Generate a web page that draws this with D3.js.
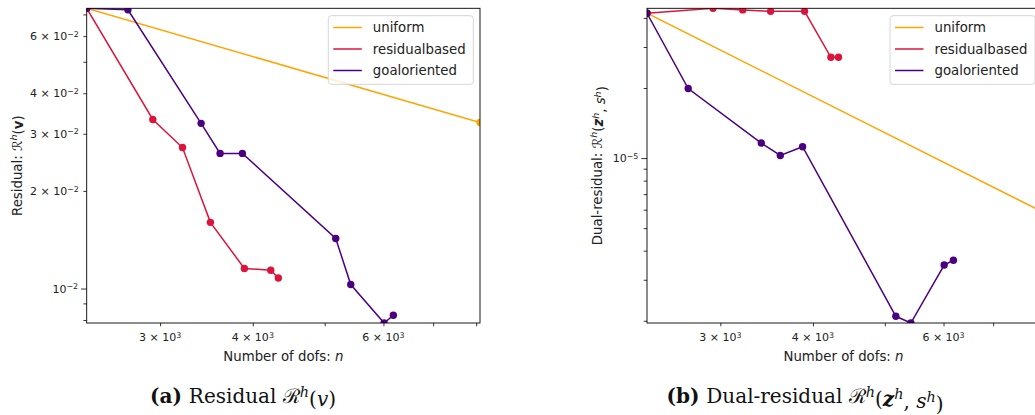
<!DOCTYPE html>
<html>
<head>
<meta charset="utf-8">
<style>
  body { margin: 0; background: #fff; }
  svg { display: block; font-family: "DejaVu Sans", sans-serif; }
</style>
</head>
<body>
<svg id="chart" width="1035" height="415"></svg>
<script src="https://cdn.jsdelivr.net/npm/d3@7"></script>
<script>
// series names and colours
const methods = ["uniform", "residualbased", "goaloriented"];
const colors = ["#ffa500", "#dc143c", "#4b0082"];

// number of dofs per refinement step (shared by both panels)
const uniformDofs = [2389, 8096];
const residualDofs = [2389, 2933, 3216, 3507, 3897, 4229, 4330];
const goalDofs = [2389, 2715, 3407, 3614, 3873, 5174, 5421, 6012, 6187];

// (a) residual
const uniformRes = [0.0731, 0.0325];
const residualRes = [0.0731, 0.0332, 0.0272, 0.0160, 0.01153, 0.01139, 0.01078];
const goalRes = [0.0731, 0.0723, 0.0323, 0.0261, 0.0261, 0.01427, 0.01029, 0.00783, 0.00827];

// (b) dual residual
const uniformDual = [4.19e-5, 5.94e-6];
const residualDual = [4.19e-5, 4.40e-5, 4.33e-5, 4.27e-5, 4.27e-5, 2.71e-5, 2.71e-5];
const goalDual = [4.19e-5, 1.99e-5, 1.16e-5, 1.026e-5, 1.119e-5, 2.09e-6, 1.956e-6, 3.47e-6, 3.64e-6];

// labelled ticks
const xLabelTicks = [3000, 4000, 6000];
const yLabelTicksRes = [0.01, 0.02, 0.03, 0.04, 0.06];
const yMajorTicksRes = [0.01];
const yLabelTicksDual = [1e-5];
const yMajorTicksDual = [1e-5];

const svg = d3.select("#chart");
const dofs = [uniformDofs, residualDofs, goalDofs];

// all 1..9 x 10^k values inside a domain
function logTicks(domain) {
    const out = [];
    const lo = Math.floor(Math.log10(domain[0])), hi = Math.ceil(Math.log10(domain[1]));
    for (let e = lo; e <= hi; e++)
        for (let m = 1; m <= 9; m++) {
            const v = m * Math.pow(10, e);
            if (v >= domain[0] * 0.9999 && v <= domain[1] * 1.0001) out.push(v);
        }
    return out;
}

// write "m × 10^e" (or "10^e") into a text element
function sciText(text, v) {
    const e = Math.floor(Math.log10(v) + 1e-9);
    const m = Math.round(v / Math.pow(10, e));
    text.append("tspan").text(m === 1 ? "10" : m + " × 10");
    text.append("tspan").attr("dy", "-0.42em").attr("font-size", "0.72em")
        .text(String(e).replace("-", "−"));
}

function sup(text, s, style) {
    const t = text.append("tspan").attr("dy", "-0.45em").attr("font-size", "0.72em").text(s);
    if (style) t.attr("font-style", style);
    return t;
}

function drawPanel(id, box, values, yLabelTicks, yMajorTicks, yLabel, legendX) {
    const allX = dofs.flat(), allY = values.flat();
    const x = d3.scaleLog().domain(d3.extent(allX)).range([box.x0, box.x1]);
    const y = d3.scaleLog().domain(d3.extent(allY)).range([box.y1, box.y0]);
    const g = svg.append("g");

    g.append("clipPath").attr("id", "clip-" + id)
        .append("rect")
        .attr("x", box.x0).attr("y", box.y0)
        .attr("width", box.x1 - box.x0).attr("height", box.y1 - box.y0);

    // series
    const plot = g.append("g").attr("clip-path", `url(#clip-${id})`);
    const line = d3.line().x(d => x(d[0])).y(d => y(d[1]));
    methods.forEach((m, i) => {
        const pts = dofs[i].map((n, k) => [n, values[i][k]]);
        plot.append("path").datum(pts)
            .attr("d", line)
            .attr("fill", "none")
            .attr("stroke", colors[i])
            .attr("stroke-width", 1.5);
        plot.selectAll(null).data(pts).join("circle")
            .attr("cx", d => x(d[0])).attr("cy", d => y(d[1]))
            .attr("r", 3.7)
            .attr("fill", colors[i]);
    });

    // ticks
    const xMinor = logTicks(x.domain());
    const yMinor = logTicks(y.domain()).filter(v => !yMajorTicks.includes(v));
    const styleAxis = a => {
        a.select(".domain").remove();
        a.selectAll("line").attr("stroke", "#000").attr("stroke-width", 0.8);
    };
    g.append("g").attr("transform", `translate(0,${box.y1})`)
        .call(d3.axisBottom(x).tickValues(xMinor).tickSize(3.3).tickFormat(""))
        .call(styleAxis);
    g.append("g").attr("transform", `translate(${box.x0},0)`)
        .call(d3.axisLeft(y).tickValues(yMinor).tickSize(3.3).tickFormat(""))
        .call(styleAxis);
    g.append("g").attr("transform", `translate(${box.x0},0)`)
        .call(d3.axisLeft(y).tickValues(yMajorTicks).tickSize(5.7).tickFormat(""))
        .call(styleAxis);

    // tick labels
    xLabelTicks.forEach(v => {
        const t = g.append("text").attr("x", x(v)).attr("y", box.y1 + 18)
            .attr("text-anchor", "middle").attr("font-size", 11).attr("fill", "#222");
        sciText(t, v);
    });
    yLabelTicks.forEach(v => {
        const major = yMajorTicks.includes(v);
        const t = g.append("text").attr("x", box.x0 - (major ? 8.6 : 7.8)).attr("y", y(v) + 4)
            .attr("text-anchor", "end").attr("font-size", 11).attr("fill", "#222");
        sciText(t, v);
    });

    // frame
    g.append("rect")
        .attr("x", box.x0).attr("y", box.y0)
        .attr("width", box.x1 - box.x0).attr("height", box.y1 - box.y0)
        .attr("fill", "none").attr("stroke", "#000").attr("stroke-width", 0.9);

    // axis labels
    const xl = g.append("text").attr("x", (box.x0 + box.x1) / 2).attr("y", box.y1 + 38)
        .attr("text-anchor", "middle").attr("font-size", 13.3).attr("fill", "#222");
    xl.append("tspan").text("Number of dofs: ");
    xl.append("tspan").attr("font-style", "italic").text("n");

    const yl = g.append("text")
        .attr("transform", `translate(${yLabel.x},${(box.y0 + box.y1) / 2}) rotate(-90)`)
        .attr("text-anchor", "middle").attr("font-size", 13.3).attr("fill", "#222");
    yLabel.build(yl);

    // legend
    const lg = g.append("g").attr("transform", `translate(${legendX},${box.y0 + 7.4})`);
    lg.append("rect").attr("width", 145).attr("height", 68.6).attr("rx", 3)
        .attr("fill", "#fff").attr("fill-opacity", 0.8)
        .attr("stroke", "#d6d6d6").attr("stroke-width", 1);
    methods.forEach((m, i) => {
        const yy = 11.8 + i * 21.5;
        lg.append("line").attr("x1", 5).attr("x2", 33.5).attr("y1", yy).attr("y2", yy)
            .attr("stroke", colors[i]).attr("stroke-width", 1.5);
        lg.append("text").attr("x", 44.5).attr("y", yy + 4.8)
            .attr("font-size", 13.3).attr("fill", "#222").text(m);
    });
}

drawPanel("res", { x0: 86.7, x1: 480, y0: 8.3, y1: 323 },
    [uniformRes, residualRes, goalRes], yLabelTicksRes, yMajorTicksRes,
    {
        x: 21.5, build: t => {
            t.append("tspan").text("Residual: ℛ");
            sup(t, "h", "italic");
            t.append("tspan").attr("dy", "0.45em").text("(");
            t.append("tspan").attr("font-weight", "bold").text("v");
            t.append("tspan").text(")");
        }
    }, 328.3);

drawPanel("dual", { x0: 647, x1: 1040, y0: 8.3, y1: 323 },
    [uniformDual, residualDual, goalDual], yLabelTicksDual, yMajorTicksDual,
    {
        x: 601.5, build: t => {
            t.append("tspan").text("Dual-residual: ℛ");
            sup(t, "h", "italic");
            t.append("tspan").attr("dy", "0.45em").text("(");
            t.append("tspan").attr("font-weight", "bold").attr("font-style", "italic").text("z");
            sup(t, "h", "italic");
            t.append("tspan").attr("dy", "0.45em").text(", ");
            t.append("tspan").attr("font-style", "italic").text("s");
            sup(t, "h", "italic");
            t.append("tspan").attr("dy", "0.45em").text(")");
        }
    }, 890);

// sub-figure captions
function caption(cx, build) {
    const t = svg.append("text").attr("x", cx).attr("y", 403)
        .attr("text-anchor", "middle")
        .attr("font-family", "'DejaVu Serif', serif")
        .attr("font-size", 20).attr("fill", "#111");
    build(t);
}
caption(243, t => {
    t.append("tspan").attr("font-weight", "bold").text("(a) ");
    t.append("tspan").text("Residual ℛ");
    sup(t, "h", "italic");
    t.append("tspan").attr("dy", "0.45em").text("(");
    t.append("tspan").attr("font-style", "italic").text("v");
    t.append("tspan").text(")");
});
caption(805, t => {
    t.append("tspan").attr("font-weight", "bold").text("(b) ");
    t.append("tspan").text("Dual-residual ℛ");
    sup(t, "h", "italic");
    t.append("tspan").attr("dy", "0.45em").text("(");
    t.append("tspan").attr("font-style", "italic").attr("font-weight", "bold").text("z");
    sup(t, "h", "italic");
    t.append("tspan").attr("dy", "0.45em").text(", ");
    t.append("tspan").attr("font-style", "italic").text("s");
    sup(t, "h", "italic");
    t.append("tspan").attr("dy", "0.45em").text(")");
});
</script>
</body>
</html>
